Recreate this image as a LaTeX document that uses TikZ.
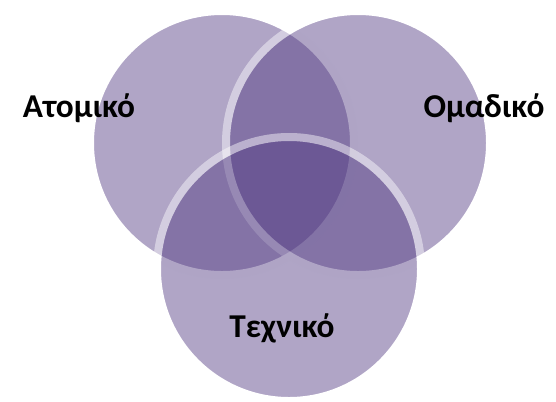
\documentclass[tikz,border=0pt]{standalone}
\usepackage{fontspec}
\setmainfont{Carlito}
\definecolor{vennfill}{RGB}{79,55,128}
\tikzset{
  venn/.style={fill=vennfill, draw=white, line width=6pt},
  vennlabel/.style={font=\bfseries\fontsize{25}{30}\selectfont, anchor=base}
}

\begin{document}
\begin{tikzpicture}[x=0.75pt, y=-0.75pt]
    \useasboundingbox (0,0) rectangle (556,401);
    % left circle
    \begin{scope}[transparency group, opacity=0.45]
      \path [venn]   (222, 143) circle (132);
    \end{scope}
    % right circle
    \begin{scope}[transparency group, opacity=0.45]
      \path [venn]   (358, 143) circle (132);
    \end{scope}
    % bottom circle
    \begin{scope}[transparency group, opacity=0.45]
      \path [venn]   (289, 269) circle (132);
    \end{scope}
    % labels
    \node [vennlabel] (atomiko) at (79, 117)  {Ατομικό};
    \node [vennlabel] (omadiko) at (484, 117) {Ομαδικό};
    \node [vennlabel] (texniko) at (282, 337) {Τεχνικό};
  \end{tikzpicture}
\end{document}
